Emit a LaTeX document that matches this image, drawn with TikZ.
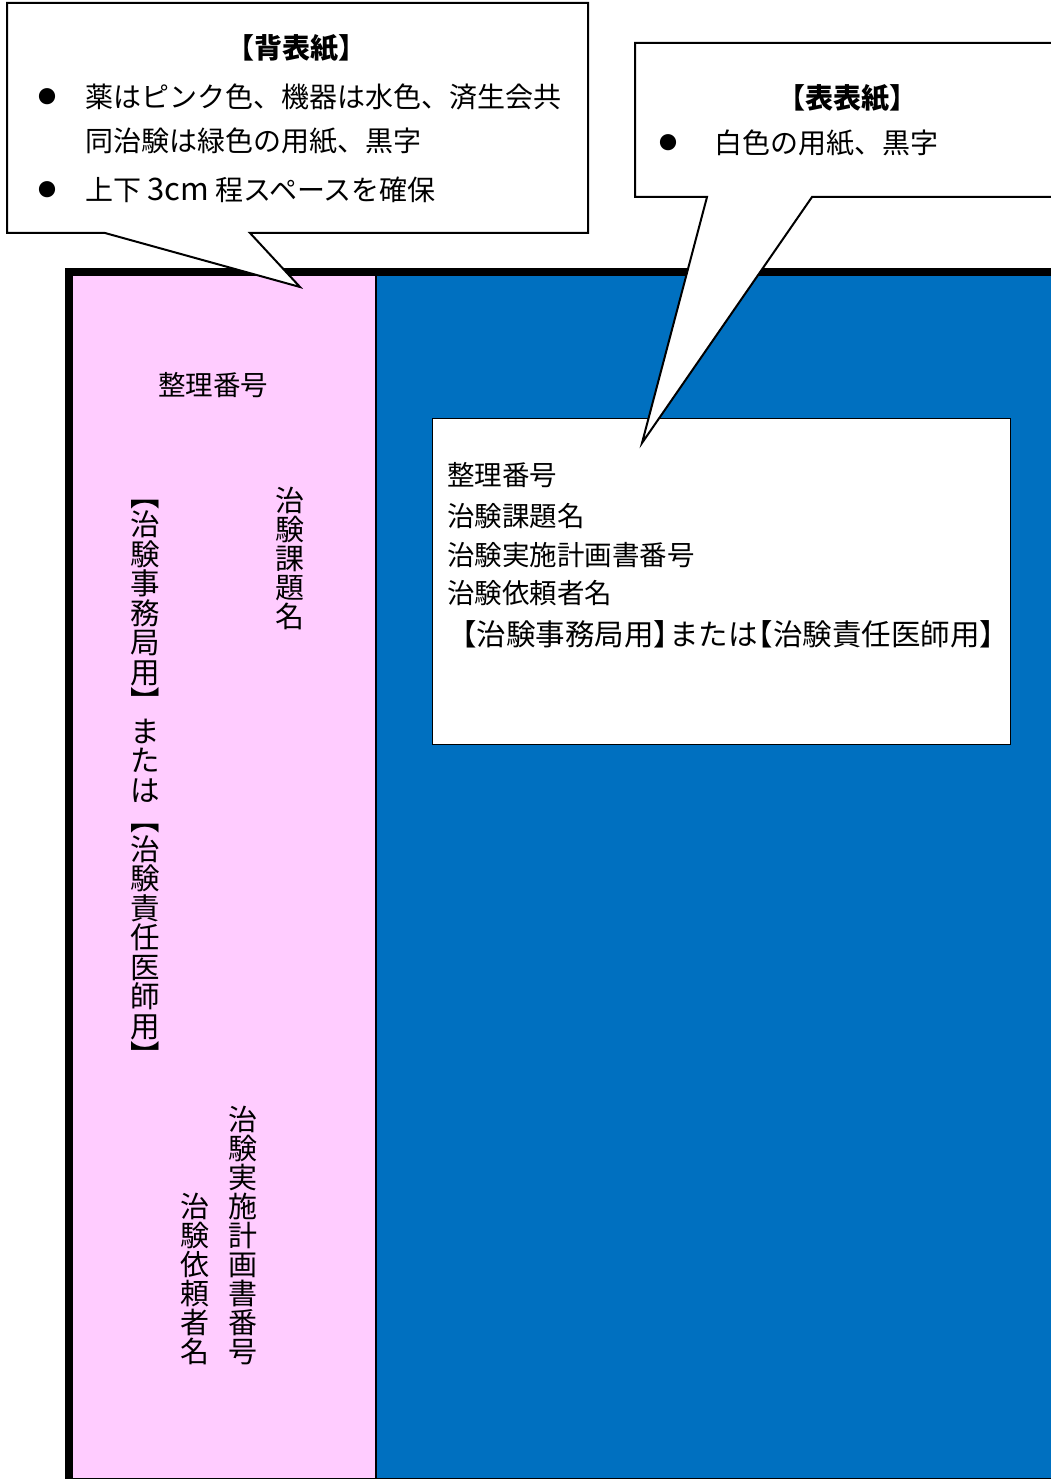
\documentclass[tikz,border=0pt]{standalone}
\usepackage{fontspec}
\setmainfont{Noto Sans CJK JP}
\definecolor{spinepink}{HTML}{FFCCFF}
\definecolor{coverblue}{HTML}{0070C0}
\newcommand\openbr[1]{\makebox[#1em][r]{【}}
\newcommand\closebr[1]{\makebox[#1em][l]{】}}
\begin{document}
\begin{tikzpicture}[x=1pt,y=-1pt,
  callout/.style={fill=white,draw=black,line width=2pt,line join=miter},
  jp/.style={inner sep=0pt,outer sep=0pt,font=\fontsize{#1}{#1}\selectfont},
  jpbold/.style={inner sep=0pt,outer sep=0pt,font=\fontsize{#1}{#1}\selectfont\bfseries},
  vcol/.style={jp=#1,align=center},
  bul/.style={jp=18}]
\useasboundingbox (0,0) rectangle (1051,1479);
\clip (0,0) rectangle (1051,1479);
\fill[white] (0,0) rectangle (1051,1479);
% book
\fill[spinepink] (73,275) rectangle (376,1479);
\fill[coverblue] (376,275) rectangle (1060,1479);
\draw[line width=2pt] (376,275) -- (376,1479);
\draw[line width=1.5pt] (65,1478.5) -- (1060,1478.5);
\draw[line width=8pt,line join=miter] (69,1490) -- (69,271.5) -- (1070,271.5);
% front label box
\node[draw=black,line width=1pt,fill=white,minimum width=578pt,minimum height=326pt,anchor=north west,inner sep=0pt] (frontbox) at (432,418) {};
\node[jp=27.5,anchor=west] (f1) at (447,475) {整理番号};
\node[jp=27.5,anchor=west] (f2) at (447,516) {治験課題名};
\node[jp=27.5,anchor=west] (f3) at (447,555) {治験実施計画書番号};
\node[jp=27.5,anchor=west] (f4) at (447,593) {治験依頼者名};
\node[jp=29.5,anchor=west] (f5) at (447,634) {【治験事務局用\closebr{0.53}または\openbr{0.53}治験責任医師用】};
% spine texts
\node[jp=27.5] (s1) at (213,385) {整理番号};
\node[vcol=29,anchor=north] (s2) at (290,487) {治\\験\\課\\題\\名};
\node[vcol=29.5,anchor=north] (s3) at (145,500) {︻\\治\\験\\事\\務\\局\\用\\︼\\ま\\た\\は\\︻\\治\\験\\責\\任\\医\\師\\用\\︼};
\node[vcol=29,anchor=south] (s4) at (243,1365) {治\\験\\実\\施\\計\\画\\書\\番\\号};
\node[vcol=29,anchor=south] (s5) at (195,1365) {治\\験\\依\\頼\\者\\名};
% left callout
\draw[callout] (7,3) -- (588,3) -- (588,233) -- (250,233) -- (300,287) -- (105,233) -- (7,233) -- cycle;
\node[jpbold=28] (lt) at (296,48) {\openbr{0.5}背表紙\closebr{0.5}};
\node[bul] (lb1) at (47,97) {●};
\node[jp=28,anchor=west] (l1) at (85,97) {薬はピンク色、機器は水色、済生会共};
\node[jp=28,anchor=west] (l2) at (85,141) {同治験は緑色の用紙、黒字};
\node[bul] (lb2) at (47,190) {●};
\node[jp=28,anchor=west] (l3) at (85,190) {上下 {\fontsize{31}{31}\selectfont 3cm} 程スペースを確保};
% right callout
\draw[callout] (635,43) -- (1070,43) -- (1070,197) -- (812,197) -- (642,443) -- (707,197) -- (635,197) -- cycle;
\node[jpbold=28] (rt) at (847,98) {\openbr{0.5}表表紙\closebr{0.5}};
\node[bul] (rb1) at (668,143) {●};
\node[jp=28,anchor=west] (r1) at (714,143) {白色の用紙、黒字};
\end{tikzpicture}
\end{document}
